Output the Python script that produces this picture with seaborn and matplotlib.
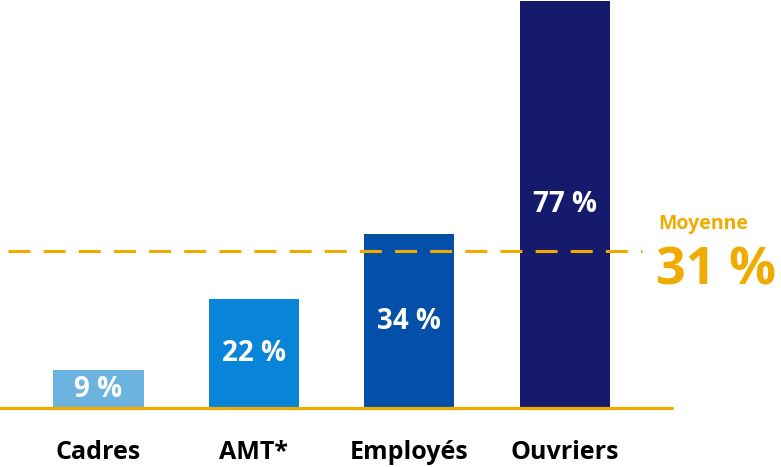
import matplotlib.pyplot as plt
import pandas as pd
import seaborn as sns


CATEGORIES = ["Cadres", "AMT*", "Employés", "Ouvriers"]
VALUES = [9, 22, 34, 77]
BAR_COLORS = ["#6db3e0", "#0884d9", "#0450a8", "#151a6d"]
MEAN_VALUE = 31
MEAN_LABEL = "Moyenne"
ORANGE = "#efab00"


def main() -> None:
    sns.set_theme(style="white")
    plt.rcParams["font.family"] = ["Open Sans", "DejaVu Sans"]

    df = pd.DataFrame({"categorie": CATEGORIES, "valeur": VALUES})

    fig = plt.figure(figsize=(7.81, 4.67), dpi=100)
    ax = fig.add_axes([0, 59 / 467, 672 / 781, 407 / 467])

    sns.barplot(
        data=df,
        x="categorie",
        y="valeur",
        hue="categorie",
        palette=BAR_COLORS,
        saturation=1,
        width=0.58,
        linewidth=0,
        legend=False,
        ax=ax,
    )

    ymin = 2
    ax.set_xlim(-0.634, 3.69)
    ax.set_ylim(ymin, max(VALUES))

    for i, v in enumerate(VALUES):
        ax.text(
            i, (max(ymin, 0) + v) / 2, f"{v} %",
            ha="center", va="center", color="white",
            fontsize=20, fontweight="bold",
        )

    # ligne de base et moyenne
    ax.axhline(ymin, color=ORANGE, linewidth=2.3, clip_on=False, zorder=5)
    ax.axhline(
        MEAN_VALUE, xmin=8 / 672, xmax=642 / 672, color=ORANGE,
        linewidth=2.2, linestyle=(0, (7.2, 4.3)), dash_capstyle="butt", zorder=4,
    )

    fig.text(658 / 781, 1 - 224 / 467, MEAN_LABEL, color=ORANGE,
             fontsize=14, fontweight="bold", ha="left", va="center")
    fig.text(656 / 781, 1 - 271 / 467, f"{MEAN_VALUE} %", color=ORANGE,
             fontsize=37.5, fontweight="bold", ha="left", va="center")

    ax.set_xlabel("")
    ax.set_ylabel("")
    ax.set_yticks([])
    ax.tick_params(axis="x", length=0, pad=23, labelsize=18, labelcolor="black")
    for lbl in ax.get_xticklabels():
        lbl.set_fontweight("bold")
    sns.despine(ax=ax, left=True, bottom=True)

    fig.savefig("out.png", dpi=100)
    plt.close(fig)


if __name__ == "__main__":
    main()
